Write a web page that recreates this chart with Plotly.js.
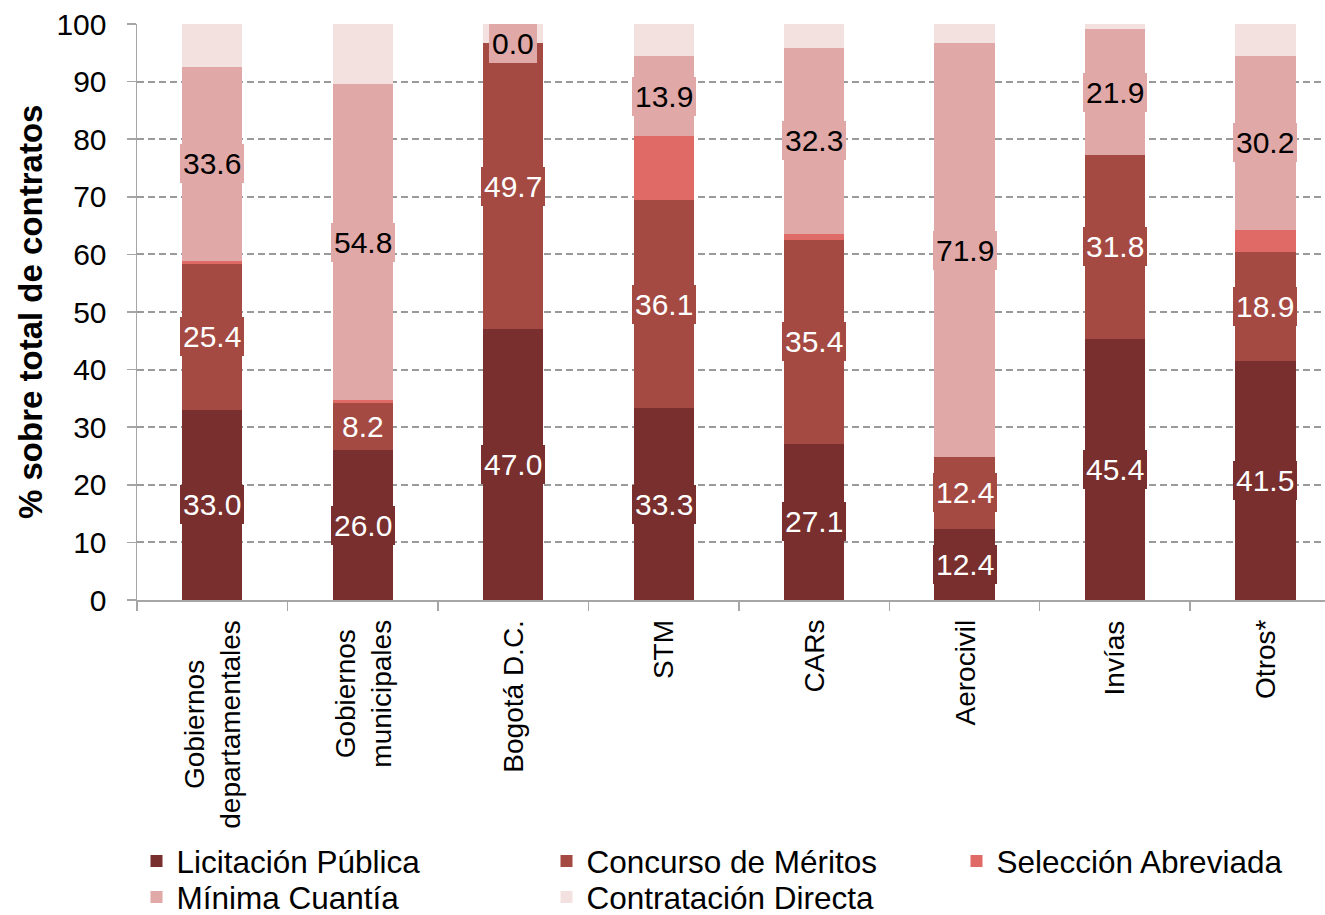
<!DOCTYPE html>
<html>
<head>
<meta charset="utf-8">
<script src="https://cdn.plot.ly/plotly-3.0.1.min.js"></script>
<style>html,body{margin:0;padding:0;background:#fff;}#chart{width:1325px;height:915px;}</style>
</head>
<body>
<div id="chart"></div>
<script>
const categories = ["Gobiernos<br>departamentales", "Gobiernos<br>municipales", "Bogotá D.C.", "STM", "CARs", "Aerocivil", "Invías", "Otros*"];
const seriesNames = ["Licitación Pública", "Concurso de Méritos", "Selección Abreviada", "Mínima Cuantía", "Contratación Directa"];
const licitacionPublica   = [33.0, 26.0, 47.0, 33.3, 27.1, 12.4, 45.4, 41.5];
const concursoMeritos     = [25.4,  8.2, 49.7, 36.1, 35.4, 12.4, 31.8, 18.9];
const seleccionAbreviada  = [ 0.5,  0.5,  0.0, 11.1,  1.1,  0.0,  0.0,  3.9];
const minimaCuantia       = [33.6, 54.8,  0.0, 13.9, 32.3, 71.9, 21.9, 30.2];
const contratacionDirecta = [ 7.5, 10.5,  3.3,  5.6,  4.1,  3.3,  0.9,  5.5];
const yTicks = [0, 10, 20, 30, 40, 50, 60, 70, 80, 90, 100];
const yTitle = "% sobre total de contratos";

const colors = ["#782F2E", "#A54A43", "#E06B66", "#E0A8A6", "#F3E1E0"];
const labelFontColors = ["#FFFFFF", "#FFFFFF", null, "#000000", null];
const allSeries = [licitacionPublica, concursoMeritos, seleccionAbreviada, minimaCuantia, contratacionDirecta];
const FONT = "Liberation Sans, Arial, sans-serif";

// one legend box per entry, laid out as the reference's 3-column grid
const legendIds = ["legend", "legend2", "legend3", "legend4", "legend5"];
const legendTextX = [177, 587, 997, 177, 587];
const legendRowY = [861, 861, 861, 897, 897];

const traces = allSeries.map((vals, i) => ({
  type: "bar",
  name: seriesNames[i],
  x: categories,
  y: vals,
  width: 0.4,
  marker: {color: colors[i], line: {width: 0}},
  legend: legendIds[i],
  hoverinfo: "skip"
}));

const annotations = [];
// data labels
categories.forEach((cat, ci) => {
  let base = 0;
  allSeries.forEach((vals, si) => {
    const v = vals[ci];
    if (labelFontColors[si]) {
      annotations.push({
        x: cat, xref: "x", y: base + v / 2, yref: "y",
        text: v.toFixed(1), showarrow: false,
        font: {family: FONT, size: 30, color: labelFontColors[si]},
        bgcolor: colors[si], borderpad: 3, borderwidth: 0,
        xanchor: "center", yanchor: "middle"
      });
    }
    base += v;
  });
});
// category labels (rotated, centered lines)
categories.forEach(cat => {
  annotations.push({
    x: cat, xref: "x", y: 0, yref: "y", yshift: -18,
    text: cat, showarrow: false, textangle: -90, align: "center",
    xanchor: "center", yanchor: "top",
    font: {family: FONT, size: 28, color: "#000"}
  });
});
// y-axis title (rotated), placed left of the tick labels
annotations.push({
  x: 0, xref: "paper", xshift: -107, xanchor: "center",
  y: 0.5, yref: "paper", yanchor: "middle",
  text: "<b>" + yTitle + "</b>", showarrow: false, textangle: -90,
  font: {family: FONT, size: 33, color: "#000"}
});

const axisGray = "#A6A6A6";
const layout = {
  width: 1325, height: 915,
  margin: {l: 137, r: 0, t: 24, b: 315, pad: 0, autoexpand: false},
  paper_bgcolor: "#fff", plot_bgcolor: "#fff",
  barmode: "stack",
  font: {family: FONT, size: 30, color: "#000"},
  xaxis: {
    type: "category", range: [-0.5, 7.396], showticklabels: false,
    ticks: "outside", tickson: "boundaries", ticklen: 9, tickwidth: 1.5, tickcolor: axisGray,
    showline: true, linecolor: axisGray, linewidth: 1.5, showgrid: false, fixedrange: true
  },
  yaxis: {
    range: [0, 100], tickvals: yTicks, ticktext: yTicks.map(String),
    ticks: "outside", ticklen: 9, tickwidth: 1.5, tickcolor: axisGray,
    showline: true, linecolor: axisGray, linewidth: 1.5,
    showgrid: true, gridcolor: "#9A9A9A", gridwidth: 2, griddash: "7px,4px",
    zeroline: false, ticklabelstandoff: 14,
    tickfont: {family: FONT, size: 30, color: "#000"},
    fixedrange: true
  },
  showlegend: true,
  annotations: annotations
};
legendIds.forEach((id, i) => {
  layout[id] = {
    orientation: "v", xref: "container", yref: "container",
    x: (legendTextX[i] - 40.5) / 1325, y: 1 - legendRowY[i] / 915,
    xanchor: "left", yanchor: "middle",
    font: {family: FONT, size: 31.5, color: "#000"}, bgcolor: "rgba(0,0,0,0)", borderwidth: 0
  };
});

Plotly.newPlot("chart", traces, layout, {staticPlot: true, displayModeBar: false});
</script>
</body>
</html>
